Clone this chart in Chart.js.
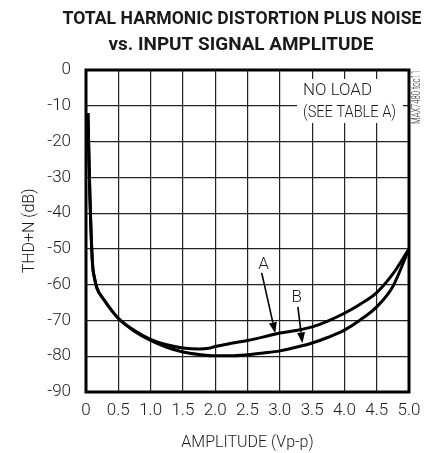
<!DOCTYPE html>
<html lang="en">
<head>
  <meta charset="UTF-8" />
  <title>THD+N vs. Input Signal Amplitude</title>
  <style>
    body { margin: 0; background: #fff; }
    #chart { display: block; }
  </style>
</head>
<body>
  <canvas id="chart" width="425" height="453"></canvas>

  <script src="https://cdn.jsdelivr.net/npm/chart.js"></script>
  <script>
    // curve A
    const ampA = [0.03, 0.06, 0.1, 0.13, 0.17, 0.27, 0.5, 0.75, 1.0, 1.25, 1.5, 1.75, 1.9, 2.0, 2.25, 2.5, 2.75, 3.0, 3.25, 3.5, 3.75, 4.0, 4.25, 4.5, 4.75, 5.0];
    const thdA = [-12, -35, -54, -58, -61, -64, -69.4, -72.8, -75.3, -76.8, -77.7, -78, -77.8, -77.3, -76.4, -75.6, -74.6, -73.5, -72.8, -71.8, -70.1, -68, -65.4, -62.2, -57, -50];
    // curve B
    const ampB = [0.03, 0.06, 0.1, 0.13, 0.17, 0.27, 0.5, 0.75, 1.0, 1.25, 1.5, 1.75, 2.0, 2.25, 2.5, 2.75, 3.0, 3.25, 3.5, 3.75, 4.0, 4.25, 4.5, 4.75, 5.0];
    const thdB = [-12, -35, -54, -58, -61, -64, -69.4, -73, -75.6, -77.5, -78.8, -79.5, -79.9, -79.9, -79.6, -79.1, -78.5, -77.5, -76.3, -74.7, -72.7, -69.8, -66.2, -60.5, -50];

    const xTicks = [0, 0.5, 1.0, 1.5, 2.0, 2.5, 3.0, 3.5, 4.0, 4.5, 5.0];
    const yTicks = [0, -10, -20, -30, -40, -50, -60, -70, -80, -90];

    const FONT = "Roboto, 'Liberation Sans', sans-serif";
    const INK = '#1a1a1a';

    function pts(xs, ys) {
      return xs.map((x, i) => ({ x: x, y: ys[i] }));
    }

    // draws text squeezed to a given width (the original uses a condensed face)
    function fitText(ctx, txt, x, y, w) {
      const m = ctx.measureText(txt).width;
      ctx.save();
      ctx.translate(x, y);
      ctx.scale(w / m, 1);
      ctx.fillText(txt, 0, 0);
      ctx.restore();
    }

    const decor = {
      id: 'decor',
      afterDatasetsDraw(chart) {
        const ctx = chart.ctx;
        const a = chart.chartArea;
        const px = v => chart.scales.x.getPixelForValue(v);
        const py = v => chart.scales.y.getPixelForValue(v);
        ctx.save();

        // note box (breaks the grid)
        ctx.fillStyle = '#fff';
        ctx.fillRect(297, 79, 106, 44);

        // frame
        ctx.strokeStyle = '#000';
        ctx.lineWidth = 3;
        ctx.strokeRect(a.left, a.top, a.right - a.left, a.bottom - a.top);

        // title
        ctx.fillStyle = INK;
        ctx.textAlign = 'center';
        ctx.textBaseline = 'middle';
        ctx.font = 'bold 18px ' + FONT;
        fitText(ctx, 'TOTAL HARMONIC DISTORTION PLUS NOISE', 242, 19, 359);
        fitText(ctx, 'vs. INPUT SIGNAL AMPLITUDE', 241, 45, 265);

        // note text
        ctx.font = '300 17px ' + FONT;
        ctx.textAlign = 'left';
        fitText(ctx, 'NO LOAD', 303, 91, 69);
        fitText(ctx, '(SEE TABLE A)', 303, 113, 93);

        // curve labels with arrows
        ctx.textAlign = 'center';
        ctx.fillText('A', px(2.75), py(-54.5));
        ctx.fillText('B', px(3.26), py(-63.7));
        arrow(ctx, px(2.72), py(-56.7), px(2.93), py(-73.6));
        arrow(ctx, px(3.28), py(-66.2), px(3.35), py(-76.4));

        // figure code
        ctx.translate(417, 97);
        ctx.rotate(-Math.PI / 2);
        ctx.font = '300 12px ' + FONT;
        ctx.fillStyle = '#333';
        ctx.textAlign = 'center';
        fitText(ctx, 'MAX7480 toc11', 0, 0, 54);
        ctx.restore();
      }
    };

    function arrow(ctx, x1, y1, x2, y2) {
      const ang = Math.atan2(y2 - y1, x2 - x1);
      const len = 11, half = 4;
      const bx = x2 - len * Math.cos(ang), by = y2 - len * Math.sin(ang);
      ctx.strokeStyle = '#000';
      ctx.lineWidth = 1.6;
      ctx.beginPath();
      ctx.moveTo(x1, y1);
      ctx.lineTo(bx, by);
      ctx.stroke();
      ctx.fillStyle = '#000';
      ctx.beginPath();
      ctx.moveTo(x2, y2);
      ctx.lineTo(bx + half * Math.sin(ang), by - half * Math.cos(ang));
      ctx.lineTo(bx - half * Math.sin(ang), by + half * Math.cos(ang));
      ctx.closePath();
      ctx.fill();
      ctx.fillStyle = INK;
    }

    new Chart(document.getElementById('chart'), {
      type: 'line',
      data: {
        datasets: [
          { label: 'A', data: pts(ampA, thdA), borderColor: '#000', borderWidth: 3, pointRadius: 0, cubicInterpolationMode: 'monotone', fill: false },
          { label: 'B', data: pts(ampB, thdB), borderColor: '#000', borderWidth: 3, pointRadius: 0, cubicInterpolationMode: 'monotone', fill: false }
        ]
      },
      options: {
        responsive: false,
        animation: false,
        devicePixelRatio: 1,
        layout: { padding: { left: 0, right: 16, top: 70, bottom: 0 } },
        plugins: { legend: { display: false }, tooltip: { enabled: false }, title: { display: false } },
        scales: {
          x: {
            type: 'linear', min: 0, max: 5,
            afterBuildTicks: s => { s.ticks = xTicks.map(v => ({ value: v })); },
            afterFit: s => { s.height = 61; s.paddingLeft = 0; s.paddingRight = 0; },
            grid: { color: '#222', lineWidth: 1.2, drawTicks: false },
            border: { display: false },
            ticks: {
              padding: 9, color: INK, font: { family: FONT, size: 17, weight: 300 }, maxRotation: 0,
              callback: v => v === 0 ? '0' : v.toFixed(1)
            },
            title: { display: true, text: 'AMPLITUDE (Vp-p)', color: INK, font: { family: FONT, size: 16, weight: 300 }, padding: { top: 2, bottom: 0 } }
          },
          y: {
            type: 'linear', min: -90, max: 0,
            afterBuildTicks: s => { s.ticks = yTicks.map(v => ({ value: v })); },
            afterFit: s => { s.width = 86; },
            grid: { color: '#222', lineWidth: 1.2, drawTicks: false },
            border: { display: false },
            ticks: { padding: 15, color: INK, font: { family: FONT, size: 17, weight: 300 } },
            title: { display: true, text: 'THD+N (dB)', color: INK, font: { family: FONT, size: 16, weight: 300 }, padding: { top: 20, bottom: 0 } }
          }
        }
      },
      plugins: [decor]
    });
  </script>
</body>
</html>
